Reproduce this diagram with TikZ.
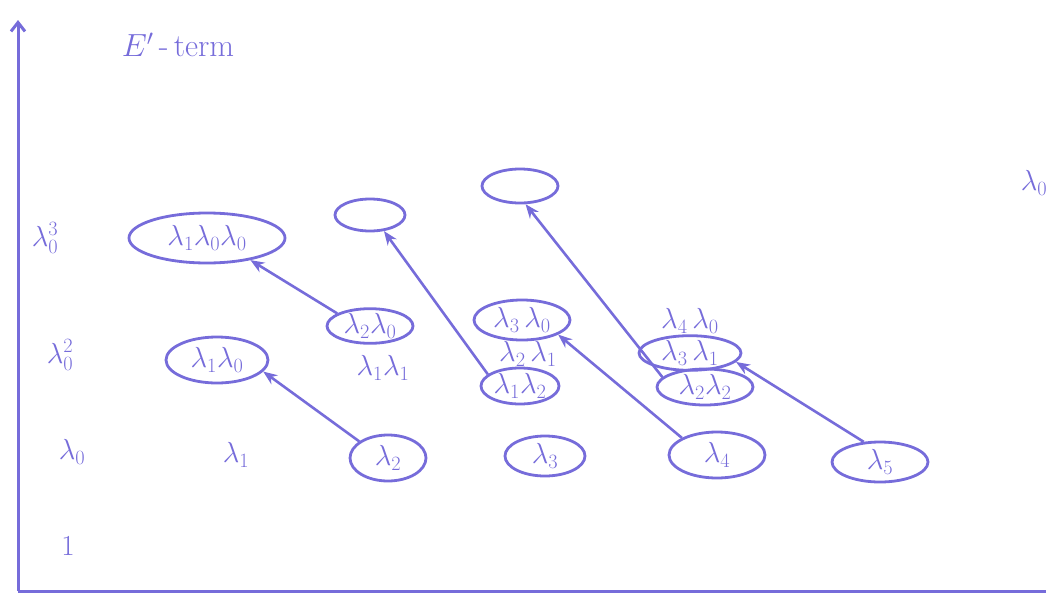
\RequirePackage{fix-cm}
\documentclass[tikz,border=0pt]{standalone}
\usepackage{tikz}
\usetikzlibrary{shapes.geometric,arrows.meta}
\definecolor{ink}{RGB}{118,108,218}
\begin{document}
\begin{tikzpicture}[x=1pt,y=-1pt,
  every node/.style={text=ink, font=\fontsize{29}{34}\selectfont, inner sep=1pt},
  ring/.style={draw=ink, ellipse, inner sep=0pt, line width=2.8pt},
  arr/.style={draw=ink, line width=2.6pt, -{Stealth[length=14pt,width=11pt]}},
  axisline/.style={draw=ink, line width=3pt}]
\useasboundingbox (0,0) rectangle (1046,597);
\clip (0,0) rectangle (1046,597);

% axes
\coordinate (origin) at (18,591);
\coordinate (ytop) at (18,20);
\coordinate (xend) at (1050,591);
\draw[axisline, -{Straight Barb[length=9pt,width=14pt]}] (origin) -- (ytop);
\draw[axisline] (origin) -- (xend);

% title
\node[font=\fontsize{32}{38}\selectfont] (title) at (178,45) {$E'$\,-\,term};

% row labels
\node (r3) at (45,238) {$\lambda_0^3$};
\node (r2) at (60,355) {$\lambda_0^2$};
\node (r1) at (72,452) {$\lambda_0$};
\node (r0) at (68,546) {$1$};
\node (rr) at (1034,183) {$\lambda_0$};

% degree one
\node (a1) at (236,455) {$\lambda_1$};
\node[ring, minimum width=76pt, minimum height=46pt] (a2) at (388,458) {$\lambda_2$};
\node[ring, minimum width=80pt, minimum height=40pt] (a3) at (545,456) {$\lambda_3$};
\node[ring, minimum width=96pt, minimum height=46pt] (a4) at (717,455) {$\lambda_4$};
\node[ring, minimum width=96pt, minimum height=40pt] (a5) at (880,462) {$\lambda_5$};

% degree two
\node[ring, minimum width=102pt, minimum height=46pt] (b10) at (217,360) {$\lambda_1\lambda_0$};
\node[ring, minimum width=86pt, minimum height=32pt] (b20) at (370,326) {$\lambda_2\lambda_0$};
\node (b11) at (383,368) {$\lambda_1\lambda_1$};
\node[ring, minimum width=96pt, minimum height=40pt] (b30) at (522,320) {$\lambda_3\,\lambda_0$};
\node (b21) at (528,354) {$\lambda_2\,\lambda_1$};
\node[ring, minimum width=78pt, minimum height=36pt] (b12) at (520,386) {$\lambda_1\lambda_2$};
\node (b40) at (690,321) {$\lambda_4\,\lambda_0$};
\node[ring, minimum width=102pt, minimum height=30pt] (b31) at (690,353) {$\lambda_3\,\lambda_1$};
\node[ring, minimum width=96pt, minimum height=36pt] (b22) at (705,387) {$\lambda_2\lambda_2$};

% degree three
\node[ring, minimum width=156pt, minimum height=50pt] (c100) at (207,238) {$\lambda_1\lambda_0\lambda_0$};
\node[ring, minimum width=70pt, minimum height=32pt] (c1) at (370,215) {};
\node[ring, minimum width=76pt, minimum height=34pt] (c2) at (520,186) {};

% connectors
\draw[arr] (a2.150) -- (b10.346);
\draw[arr] (b20.159) -- (c100.333);
\draw[arr] (b12.160) -- (c1.311);
\draw[arr] (a4.154) -- (b30.338);
\draw[arr] (b22.167) -- (c2.287);
\draw[arr] (a5.129) -- (b31.349);
\end{tikzpicture}
\end{document}
